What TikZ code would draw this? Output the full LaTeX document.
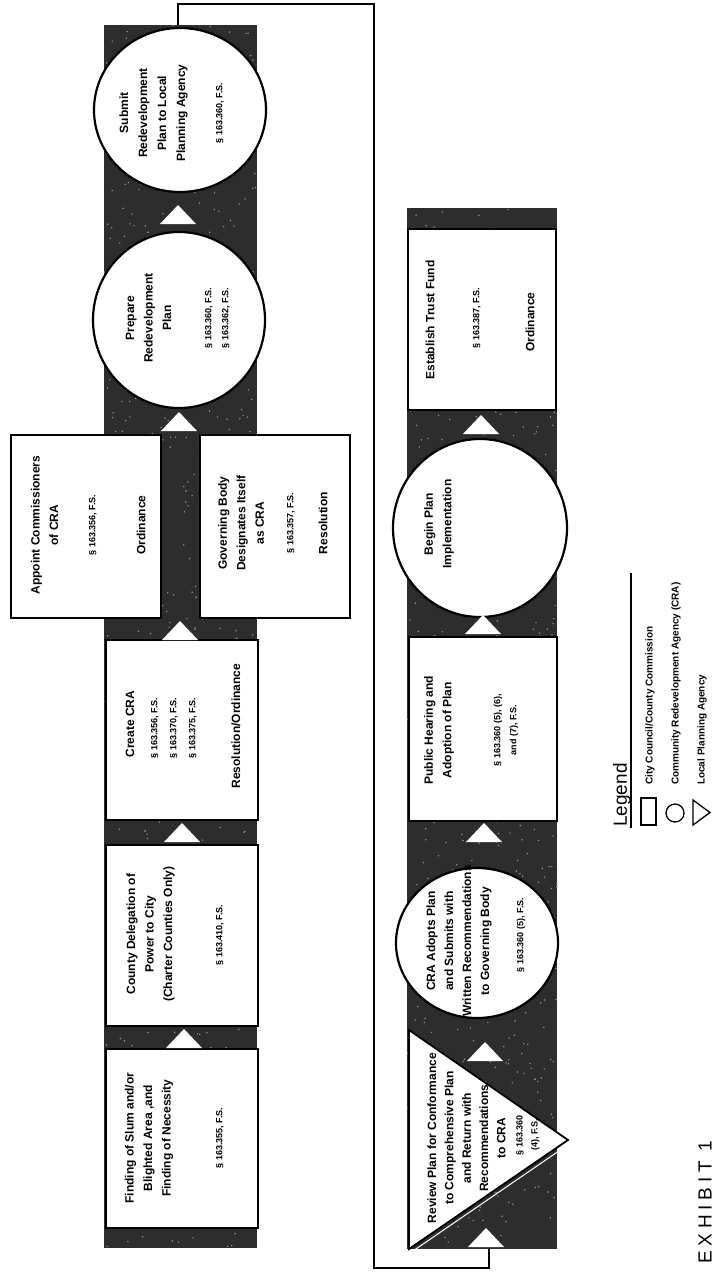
\documentclass[tikz,border=0pt]{standalone}
\usepackage{fontspec}
\setmainfont{Liberation Sans}
\newfontfamily\exfont[LetterSpace=25]{Liberation Sans}
\usetikzlibrary{shapes.geometric}
\definecolor{bandc}{RGB}{45,45,45}
\definecolor{speck}{RGB}{150,150,150}
\newcommand\wtri[2]{\fill[white] (#1-18,#2+19) -- (#1,#2) -- (#1+18,#2+19) -- cycle;}
\begin{document}
\begin{tikzpicture}[x=1pt,y=-1pt,
  title/.style={rotate=90, align=center, font=\fontsize{12}{18.5}\selectfont\bfseries, inner sep=0pt},
  stat/.style={rotate=90, align=center, font=\fontsize{9}{17}\selectfont\bfseries, inner sep=0pt},
  boxnode/.style={draw, line width=1.8pt, fill=white, inner sep=0pt},
  roundnode/.style={ellipse, draw, line width=2.2pt, fill=white, inner sep=0pt},
  conn/.style={line width=2pt, line join=miter},
  legtext/.style={rotate=90, anchor=west, font=\fontsize{10}{12}\selectfont\bfseries, inner sep=0pt}]
\useasboundingbox (0,0) rectangle (712,1272);
\fill[white] (0,0) rectangle (712,1272);
% strips
\fill[bandc] (104,25) rectangle (257,1248);
\fill[bandc] (407,208) rectangle (557,1249);
\pgfmathsetseed{11}
\foreach \i in {1,...,700}{\fill[speck] ({180.5+76*rand},{636.5+611*rand}) circle (0.8);}
\foreach \i in {1,...,550}{\fill[speck] ({482+75*rand},{728.5+520*rand}) circle (0.8);}
% strip 1 shapes
\node[boxnode, minimum width=152pt, minimum height=179pt] (finding) at (182,1138.5) {};
\node[boxnode, minimum width=152pt, minimum height=181pt] (county) at (182,935.5) {};
\node[boxnode, minimum width=152pt, minimum height=180pt] (create) at (182,730) {};
\node[boxnode, minimum width=150pt, minimum height=183pt] (appoint) at (86,526.5) {};
\node[boxnode, minimum width=150pt, minimum height=183pt] (govern) at (275,526.5) {};
\node[roundnode, minimum width=172pt, minimum height=176pt] (prepare) at (179,320) {};
\node[roundnode, minimum width=172pt, minimum height=164pt] (submit) at (180,110) {};
\wtri{178}{205}
\wtri{179}{412}
\wtri{180}{621}
\wtri{182}{823}
\wtri{184}{1029}
% strip 2 shapes
\node[boxnode, minimum width=148pt, minimum height=181pt] (trust) at (482,319.5) {};
\node[roundnode, minimum width=174pt, minimum height=178pt] (begin) at (480,528) {};
\node[boxnode, minimum width=148pt, minimum height=184pt] (hearing) at (483,729) {};
\node[roundnode, minimum width=162pt, minimum height=150pt] (adopts) at (477,943) {};
\begin{scope}
\clip (407,1100) rectangle (557,1249);
\draw[white, line width=1pt] (411.5,1252) -- (570.5,1143);
\end{scope}
\filldraw[fill=white, line width=1.8pt, line join=miter] (409,1030) -- (568,1140) -- (409,1249) -- cycle;
\coordinate (review) at (462,1140);
\wtri{481}{415}
\wtri{483}{615}
\wtri{484}{823}
\wtri{485}{1042}
\wtri{486}{1228}
% connector
\coordinate (s1top) at (178,25);
\coordinate (s2bot) at (489,1249);
\draw[conn] (s1top) |- (374,4) -- (374,1268) -| (s2bot);
% texts strip 1
\node[title] (findingT) at (149,1138) {Finding of Slum and/or\\Blighted Area ,and\\Finding of Necessity};
\node[stat] (findingS) at (220,1138) {§ 163.355, F.S.};
\node[title] (countyT) at (150.5,934) {County Delegation of\\Power to City\\(Charter Counties Only)};
\node[stat] (countyS) at (220,935) {§ 163.410, F.S.};
\node[title] (createT) at (130,724) {Create CRA};
\node[stat, font=\fontsize{9}{19}\selectfont\bfseries] (createS) at (174,728) {§ 163.356, F.S.\\§ 163.370, F.S.\\§ 163.375, F.S.};
\node[title] (createR) at (236,726) {Resolution/Ordinance};
\node[title] (appointT) at (44.5,525) {Appoint Commissioners\\of CRA};
\node[stat] (appointS) at (93,525) {§ 163.356, F.S.};
\node[title] (appointR) at (141,525) {Ordinance};
\node[title] (governT) at (241,523) {Governing Body\\Designates Itself\\as CRA};
\node[stat] (governS) at (291,523) {§ 163.357, F.S.};
\node[title] (governR) at (323,523) {Resolution};
\node[title] (prepareT) at (148.5,318) {Prepare\\Redevelopment\\Plan};
\node[stat] (prepareS) at (217.5,318) {§ 163.360, F.S.\\§ 163.362, F.S.};
\node[title, font=\fontsize{12}{19}\selectfont\bfseries] (submitT) at (153.5,113) {Submit\\Redevelopment\\Plan to Local\\Planning Agency};
\node[stat] (submitS) at (220,113) {§ 163.360, F.S.};
% texts strip 2
\node[title] (trustT) at (430,320) {Establish Trust Fund};
\node[stat] (trustS) at (477,318) {§ 163.387, F.S.};
\node[title] (trustR) at (530,322) {Ordinance};
\node[title] (beginT) at (439,524) {Begin Plan\\Implementation};
\node[title] (hearingT) at (439,730) {Public Hearing and\\Adoption of Plan};
\node[stat, font=\fontsize{9}{16}\selectfont\bfseries] (hearingS) at (506,730) {§ 163.360 (5), (6),\\and (7), F.S.};
\node[title, font=\fontsize{12}{18}\selectfont\bfseries] (adoptsT) at (459,941) {CRA Adopts Plan\\and Submits with\\Written Recommendations\\to Governing Body};
\node[stat] (adoptsS) at (521,935) {§ 163.360 (5), F.S.};
\node[title, font=\fontsize{12}{17.3}\selectfont\bfseries] (reviewT) at (466.5,1138) {Review Plan for Conformance\\to Comprehensive Plan\\and Return with\\Recommendations\\to CRA};
\node[stat, font=\fontsize{9}{15}\selectfont\bfseries] (reviewS) at (528,1135) {§ 163.360\\(4), F.S.};
% legend
\node[rotate=90, font=\fontsize{19}{19}\selectfont, inner sep=0pt] (legendT) at (622,795) {Legend};
\draw[line width=1.3pt] (631,828) -- (631,573);
\node[draw, line width=1.3pt, minimum width=15pt, minimum height=27pt, inner sep=0pt] (legbox) at (648.5,811.5) {};
\node[circle, draw, line width=1.3pt, minimum size=18pt, inner sep=0pt] (legcirc) at (675,813) {};
\draw[line width=1.3pt, line join=miter] (693,800) -- (710,812.5) -- (693,825) -- cycle;
\node[legtext] (leg1) at (650,785) {City Council/County Commission};
\node[legtext] (leg2) at (676,785) {Community Redevelopment Agency (CRA)};
\node[legtext] (leg3) at (702,785) {Local Planning Agency};
\node[rotate=90, font=\exfont\fontsize{19}{19}\selectfont, inner sep=0pt] (exhibit) at (705,1202) {EXHIBIT 1};
\end{tikzpicture}
\end{document}
